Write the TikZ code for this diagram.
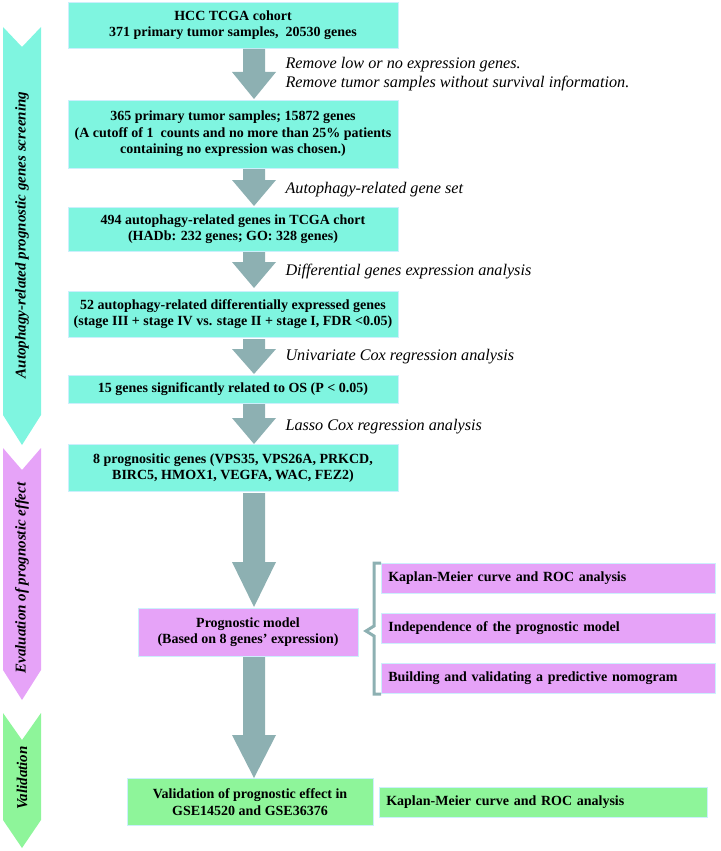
\documentclass[tikz,border=0pt]{standalone}
\usepackage{fontspec}
\setmainfont{Liberation Serif}
\begin{document}
\begin{tikzpicture}[x=1pt,y=-1pt,
 box/.style={draw=white!80!cyan,line width=0.6pt,fill=#1,font=\fontsize{14}{16.5}\selectfont\bfseries,align=center,inner sep=0pt},
 rbox/.style={box=#1,anchor=west,text width=320,align=left,inner xsep=7pt,minimum height=30},
 lab/.style={font=\fontsize{16.2}{19}\selectfont\itshape,anchor=west,align=left},
 vt/.style={rotate=90,font=\fontsize{15}{18}\selectfont\bfseries\itshape}]
\definecolor{Cy}{HTML}{7FF5E0}
\definecolor{Pk}{HTML}{E6A3F8}
\definecolor{Gr}{HTML}{8EF59A}
\definecolor{ArrowGray}{HTML}{8DB0B2}
\useasboundingbox (0,0) rectangle (720,851);
% left chevrons
\fill[Cy] (3,27) -- (22,47) -- (41,27) -- (41,415) -- (22,445) -- (3,415) -- cycle;
\fill[Pk] (3,448) -- (22,470) -- (41,448) -- (41,670) -- (22,700) -- (3,670) -- cycle;
\fill[Gr] (3,713) -- (22,740) -- (41,713) -- (41,820) -- (22,848) -- (3,820) -- cycle;
\node[vt] (t1) at (22,235) {Autophagy-related prognostic genes screening};
\node[vt] (t2) at (22,578) {Evaluation of prognostic effect};
\node[vt] (t3) at (22,778) {Validation};
% boxes
\node[box=Cy,minimum width=330,minimum height=46] (b1) at (233,25) {HCC TCGA cohort\\371 primary tumor samples,\ \ 20530 genes};
\node[box=Cy,minimum width=330,minimum height=68] (b2) at (233,134) {365 primary tumor samples; 15872 genes\\(A cutoff of 1\ \ counts and no more than 25\% patients\\containing no expression was chosen.)};
\node[box=Cy,minimum width=330,minimum height=44] (b3) at (233,229) {494 autophagy-related genes in TCGA chort\\(HADb: 232 genes; GO: 328 genes)};
\node[box=Cy,minimum width=330,minimum height=46] (b4) at (233,314) {52 autophagy-related differentially expressed genes\\(stage III + stage IV vs. stage II + stage I, FDR {<}0.05)};
\node[box=Cy,minimum width=330,minimum height=28] (b5) at (233,389) {15 genes significantly related to OS (P {<} 0.05)};
\node[box=Cy,minimum width=330,minimum height=47] (b6) at (233,468) {8 prognositic genes (VPS35, VPS26A, PRKCD,\\BIRC5, HMOX1, VEGFA, WAC, FEZ2)};
\node[box=Pk,minimum width=220,minimum height=48] (m) at (248,632) {Prognostic model\\(Based on 8 genes' expression)};
\node[box=Gr,minimum width=246,minimum height=47] (v) at (250,802) {Validation of prognostic effect in\\GSE14520 and GSE36376};
\node[rbox=Pk] (r1) at (381,578) {Kaplan-Meier curve and ROC analysis};
\node[rbox=Pk] (r2) at (381,628) {Independence of the prognostic model};
\node[rbox=Pk] (r3) at (381,678) {Building and validating a predictive nomogram};
\node[rbox=Gr,text width=314] (r4) at (379,802) {Kaplan-Meier curve and ROC analysis};
% arrows
\newcommand\bigarr[3]{\fill[ArrowGray] (243,#1) -- (265,#1) -- (265,#2) -- (276,#2) -- (254,#3) -- (232,#2) -- (243,#2) -- cycle;}
\bigarr{49}{72}{99}
\bigarr{169}{180}{206}
\bigarr{252}{262}{288}
\bigarr{339}{349}{374}
\bigarr{404}{418}{444}
\bigarr{493}{562}{607}
\bigarr{657}{735}{778}
% labels
\node[lab] (l1) at (282,74) {Remove low or no expression genes.\\Remove tumor samples without survival information.};
\node[lab] (l2) at (282,190) {Autophagy-related gene set};
\node[lab] (l3) at (282,272) {Differential genes expression analysis};
\node[lab] (l4) at (282,357) {Univariate Cox regression analysis};
\node[lab] (l5) at (282,427) {Lasso Cox regression analysis};
% brace
\draw[ArrowGray,line width=3pt] (381,563) -- (374,563) -- (374,626) -- (366,631) -- (374,636) -- (374,694) -- (381,694);
\end{tikzpicture}
\end{document}
